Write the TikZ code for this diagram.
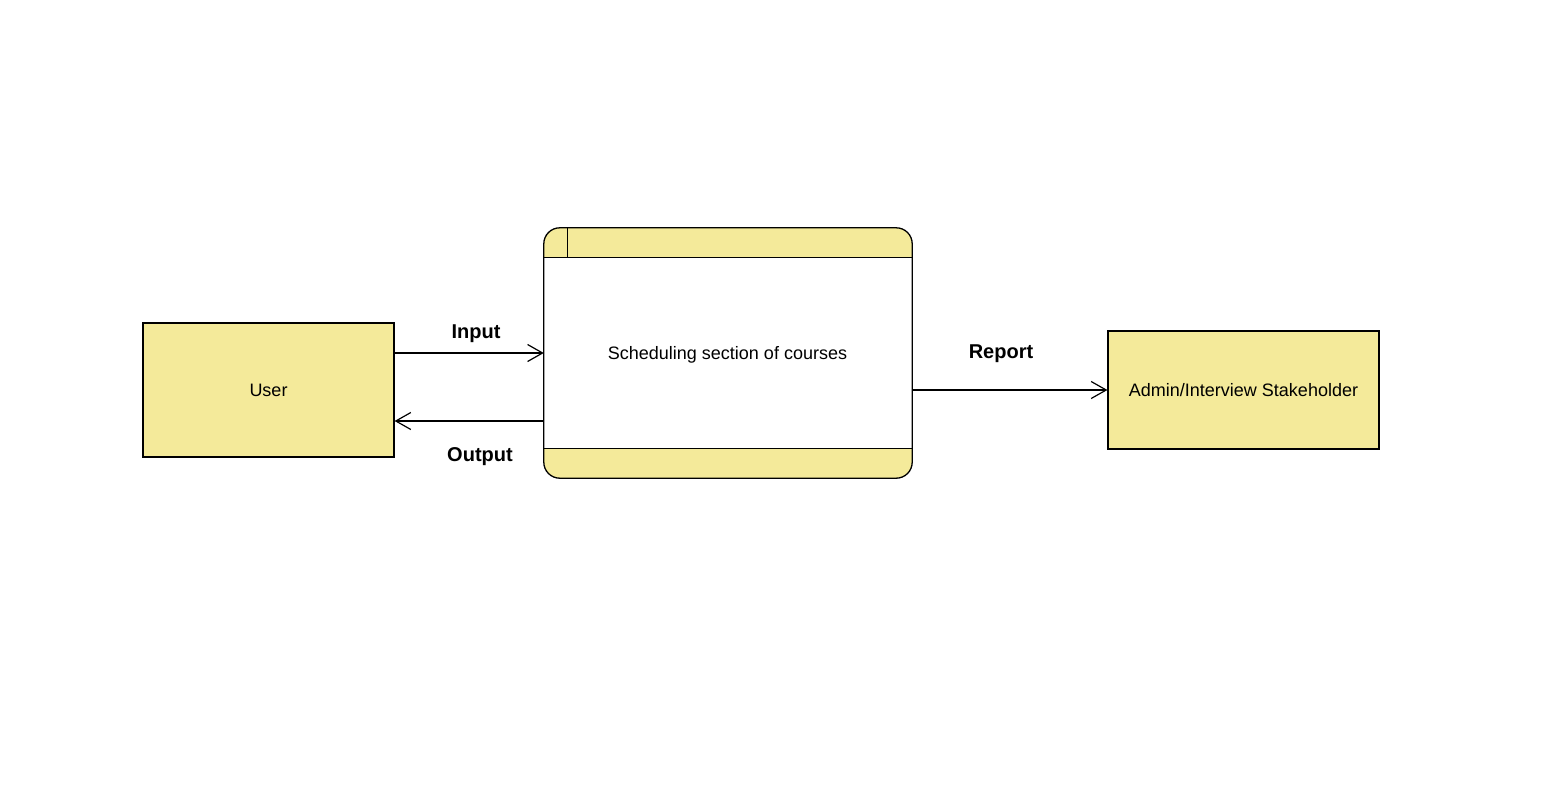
\documentclass[tikz,border=0pt]{standalone}
\usepackage{fontspec}
\setmainfont{Liberation Sans}
\usetikzlibrary{arrows.meta,calc}
\definecolor{yel}{HTML}{F4EA9A}
\tikzset{
  entity/.style={draw=black, fill=yel, line width=1.2pt, inner sep=0pt, font=\fontsize{18pt}{21pt}\selectfont},
  flow/.style={draw=black, line width=1.2pt, -{Straight Barb[length=15pt,width=17pt,line width=1.2pt]}},
  flowlabel/.style={font=\fontsize{20pt}{24pt}\selectfont\bfseries, inner sep=0pt},
  procline/.style={draw=black, line width=1.3pt},
}
\begin{document}
\begin{tikzpicture}[x=1pt,y=-1pt]
\useasboundingbox (0,0) rectangle (1551,806);
\fill[white] (0,0) rectangle (1551,806);
% entities
\node[entity, minimum width=251pt, minimum height=134pt] (user) at (268.5,390) {\raisebox{-2pt}{User}};
\node[entity, minimum width=271pt, minimum height=118pt] (admin) at (1243.5,390) {\raisebox{-1pt}{Admin/Interview Stakeholder}};
% process
\node[minimum width=368pt, minimum height=250pt, inner sep=0pt] (proc) at (728,353) {};
\begin{scope}
  \clip[rounded corners=16pt] (proc.north west) rectangle (proc.south east);
  \fill[white] (proc.north west) rectangle (proc.south east);
  \fill[yel] (proc.north west) rectangle ([yshift=-30pt]proc.north east);
  \fill[yel] (proc.south west) rectangle ([yshift=30pt]proc.south east);
\end{scope}
\draw[procline, rounded corners=16pt] (proc.north west) rectangle (proc.south east);
\draw[procline] ([yshift=-30pt]proc.north west) -- ([yshift=-30pt]proc.north east);
\draw[procline] ([yshift=30pt]proc.south west) -- ([yshift=30pt]proc.south east);
\draw[procline] ([xshift=24pt]proc.north west) -- ([xshift=24pt,yshift=-30pt]proc.north west);
\node[font=\fontsize{18pt}{21pt}\selectfont, inner sep=0pt] (ptext) at (727.5,355) {Scheduling section of courses};
% flows
\coordinate (outstart) at ([yshift=-68pt]proc.west);
\draw[flow] (user.east |- proc.west) -- (proc.west);
\draw[flow] (outstart) -- (user.east |- outstart);
\draw[flow] (proc.east |- admin.west) -- (admin.west);
% labels
\node[flowlabel] (lin) at (476,334) {Input};
\node[flowlabel] (lout) at (480,457) {Output};
\node[flowlabel] (lrep) at (1001,354) {Report};
\end{tikzpicture}
\end{document}
